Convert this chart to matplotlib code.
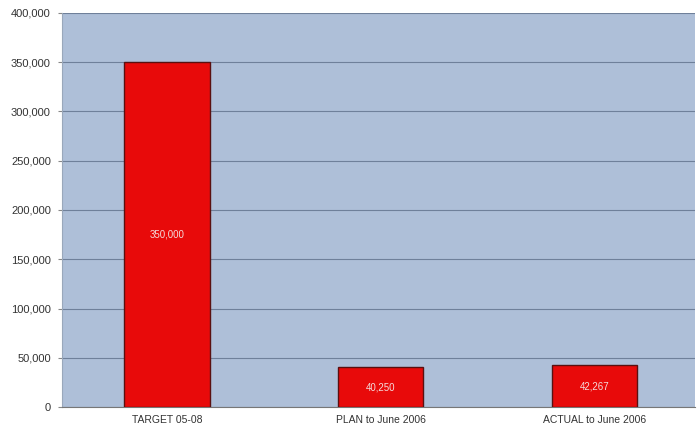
import matplotlib
matplotlib.use('Agg')
import matplotlib.pyplot as plt
from matplotlib.ticker import FuncFormatter

categories = ['TARGET 05-08', 'PLAN to June 2006', 'ACTUAL to June 2006']
values = [350000, 40250, 42267]
yticks = [0, 50000, 100000, 150000, 200000, 250000, 300000, 350000, 400000]

plt.rcParams['font.family'] = ['Liberation Sans', 'DejaVu Sans']

fig = plt.figure(figsize=(6.97, 4.29), dpi=100)
ax = fig.add_axes([0.089, 0.051, 0.908, 0.919])
ax.set_facecolor('#aebfd8')

x = range(len(categories))
bars = ax.bar(x, values, width=0.4, color='#e80a0a', edgecolor='#5a1010', linewidth=1.0, zorder=3)

for b, v in zip(bars, values):
    ax.text(b.get_x() + b.get_width() / 2, v / 2, f'{v:,}', ha='center', va='center',
            color='#f4dada', fontsize=7, zorder=4)

ax.set_xlim(-0.49, 2.47)
ax.set_ylim(0, 400000)
ax.set_yticks(yticks)
ax.yaxis.set_major_formatter(FuncFormatter(lambda v, p: f'{int(v):,}'))
ax.set_xticks(list(x))
ax.set_xticklabels(categories)
ax.grid(axis='y', color='#6f809a', linewidth=0.8, zorder=1)
ax.tick_params(axis='x', labelsize=7.5, colors='#333333', length=0, pad=6)
ax.tick_params(axis='y', labelsize=8, colors='#333333', length=3, color='#888888', pad=5)
for s in ['top', 'right']:
    ax.spines[s].set_visible(False)
ax.spines['left'].set_color('#9aa8bb')
ax.spines['bottom'].set_color('#777777')

fig.savefig('out.png', dpi=100)
